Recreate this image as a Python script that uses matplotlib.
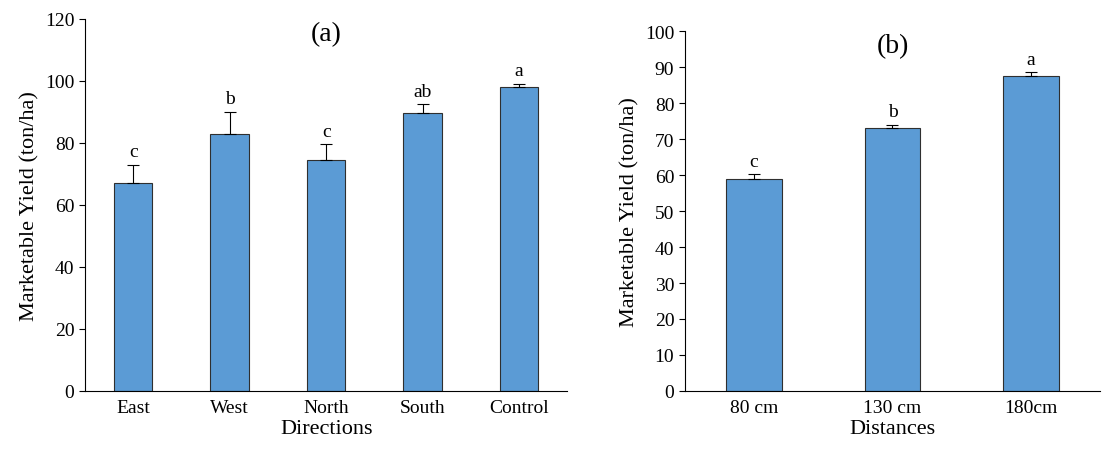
import matplotlib
matplotlib.use('Agg')
import matplotlib.pyplot as plt

plt.rcParams['font.family'] = ['Liberation Serif', 'DejaVu Serif']

# panel (a)
dirs = ['East', 'West', 'North', 'South', 'Control']
yield_a = [67, 83, 74.5, 89.5, 98]
err_a = [6, 7, 5, 3, 1]
letters_a = ['c', 'b', 'c', 'ab', 'a']

# panel (b)
dists = ['80 cm', '130 cm', '180cm']
yield_b = [59, 73, 87.5]
err_b = [1.2, 1.0, 1.2]
letters_b = ['c', 'b', 'a']

bar_color = '#5B9BD5'

fig = plt.figure(figsize=(11.17, 4.6), dpi=100)
ax1 = fig.add_axes([0.076, 0.148, 0.432, 0.809])
ax2 = fig.add_axes([0.613, 0.148, 0.372, 0.782])


def draw(ax, cats, vals, errs, letters, ymax, step, xlabel, title, width):
    x = range(len(cats))
    ax.bar(x, vals, width=width, color=bar_color, edgecolor='#2F2F2F', linewidth=0.8,
           yerr=[[0] * len(errs), errs],
           error_kw=dict(ecolor='black', elinewidth=0.8, capsize=4, capthick=0.8))
    for i, (v, e, l) in enumerate(zip(vals, errs, letters)):
        ax.text(i, v + e + ymax * 0.012, l, ha='center', va='bottom', fontsize=14)
    ax.set_ylim(0, ymax)
    ax.set_yticks(range(0, ymax + 1, step))
    ax.set_xlim(-0.5, len(cats) - 0.5)
    ax.set_xticks(list(x))
    ax.set_xticklabels(cats)
    ax.tick_params(axis='x', length=0, labelsize=14, pad=6)
    ax.tick_params(axis='y', labelsize=14, direction='out', length=4)
    ax.spines['top'].set_visible(False)
    ax.spines['right'].set_visible(False)
    ax.set_xlabel(xlabel, fontsize=16, labelpad=2)
    ax.set_ylabel('Marketable Yield (ton/ha)', fontsize=16)
    ax.text(0.5, 0.995, title, transform=ax.transAxes, ha='center', va='top', fontsize=20)


draw(ax1, dirs, yield_a, err_a, letters_a, 120, 20, 'Directions', '(a)', 0.4)
draw(ax2, dists, yield_b, err_b, letters_b, 100, 10, 'Distances', '(b)', 0.4)

fig.savefig('out.png', dpi=100)
